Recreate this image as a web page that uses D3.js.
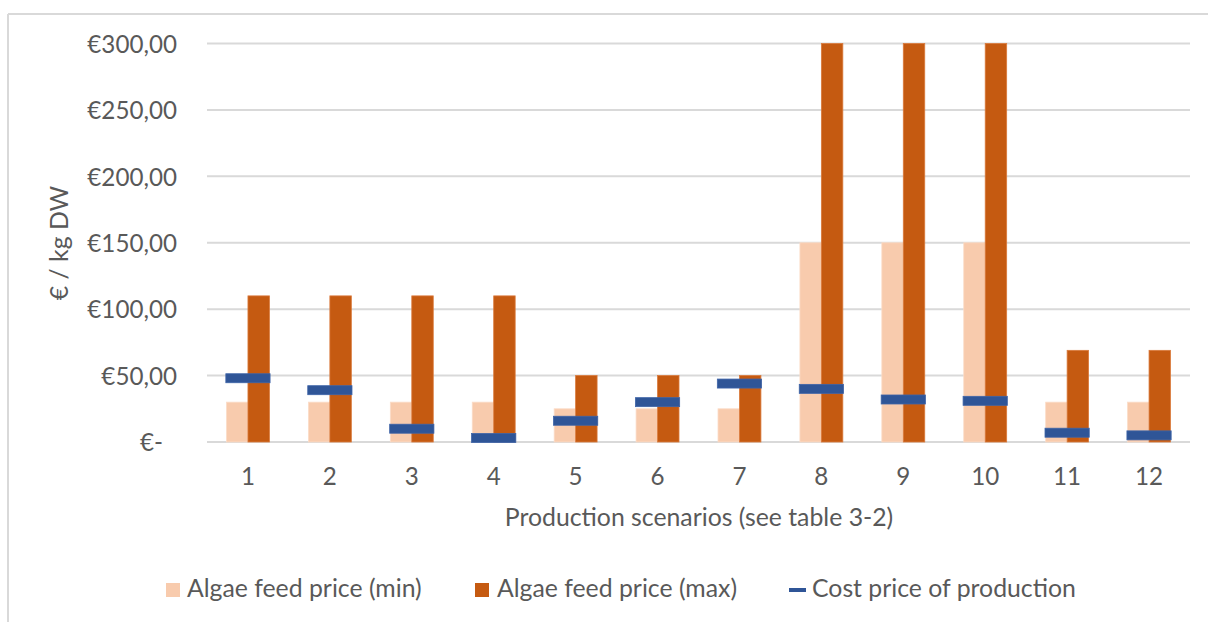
<!DOCTYPE html>
<html>
<head>
<meta charset="utf-8">
<script src="https://cdn.jsdelivr.net/npm/d3@7"></script>
<style>
  html, body { margin: 0; padding: 0; background: #ffffff; }
  svg { display: block; }
  text { font-family: Lato, "Open Sans", sans-serif; fill: #595959; }
</style>
</head>
<body>
<svg id="chart" width="1208" height="622"></svg>
<script>
// Production scenarios and price series (€ / kg DW)
const scenarios = ["1", "2", "3", "4", "5", "6", "7", "8", "9", "10", "11", "12"];
const feedPriceMin = [30, 30, 30, 30, 25, 25, 25, 150, 150, 150, 30, 30];
const feedPriceMax = [110, 110, 110, 110, 50, 50, 50, 300, 300, 300, 69, 69];
const costPrice = [48, 39, 10, 3, 16, 30, 44, 40, 32, 31, 7, 5];
const yTicks = [0, 50, 100, 150, 200, 250, 300];
const seriesNames = ["Algae feed price (min)", "Algae feed price (max)", "Cost price of production"];

const colors = { min: "#F8CBAD", max: "#C55A11", cost: "#2F5597", grid: "#D9D9D9" };
const fontSize = 24.8;
const tickFontSize = 24.2;

const svg = d3.select("#chart");

const plot = { left: 207, right: 1190, top: 43.5, bottom: 442 };

const x = d3.scaleBand().domain(scenarios).range([plot.left, plot.right]).paddingInner(0).paddingOuter(0);
const y = d3.scaleLinear().domain([0, 300]).range([plot.bottom, plot.top]);

const barW = x.bandwidth() * 0.262;
const markW = x.bandwidth() * 0.54;
const markH = 9;

// outer frame (top and left edges)
svg.append("line").attr("x1", 8).attr("x2", 1208).attr("y1", 14).attr("y2", 14)
  .attr("stroke", colors.grid).attr("stroke-width", 2);
svg.append("line").attr("x1", 8).attr("x2", 8).attr("y1", 14).attr("y2", 622)
  .attr("stroke", colors.grid).attr("stroke-width", 2);

// horizontal gridlines
svg.append("g")
  .selectAll("line")
  .data(yTicks)
  .join("line")
  .attr("x1", plot.left).attr("x2", plot.right)
  .attr("y1", d => y(d)).attr("y2", d => y(d))
  .attr("stroke", colors.grid).attr("stroke-width", 2);

// y axis labels
const yAxis = d3.axisLeft(y)
  .tickValues(yTicks)
  .tickSize(0)
  .tickPadding(0)
  .tickFormat(d => d === 0 ? "€-" : "€" + d3.format(".2f")(d).replace(".", ","));

const yG = svg.append("g").attr("transform", `translate(177,0)`).call(yAxis);
yG.select(".domain").remove();
yG.selectAll("text")
  .style("font-size", tickFontSize + "px")
  .attr("font-family", null)
  .attr("dy", "0.36em")
  .attr("x", d => d === 0 ? -14 : 0);

// x axis labels
const xAxis = d3.axisBottom(x).tickSize(0).tickPadding(0);
const xG = svg.append("g").attr("transform", `translate(0,${plot.bottom})`).call(xAxis);
xG.select(".domain").remove();
xG.selectAll("text")
  .style("font-size", tickFontSize + "px")
  .attr("font-family", null)
  .attr("dy", 0)
  .attr("y", 43);

const cx = d => x(d) + x.bandwidth() / 2;

// min price bars
svg.append("g")
  .selectAll("rect")
  .data(scenarios)
  .join("rect")
  .attr("x", d => cx(d) - barW)
  .attr("width", barW)
  .attr("y", (d, i) => y(feedPriceMin[i]))
  .attr("height", (d, i) => y(0) - y(feedPriceMin[i]))
  .attr("fill", colors.min)
  .attr("stroke", "#FBDCC8").attr("stroke-width", 0.8);

// max price bars
svg.append("g")
  .selectAll("rect")
  .data(scenarios)
  .join("rect")
  .attr("x", d => cx(d))
  .attr("width", barW)
  .attr("y", (d, i) => y(feedPriceMax[i]))
  .attr("height", (d, i) => y(0) - y(feedPriceMax[i]))
  .attr("fill", colors.max)
  .attr("stroke", "#DA7A3C").attr("stroke-width", 0.8);

// cost price dash markers
svg.append("g")
  .selectAll("rect")
  .data(scenarios)
  .join("rect")
  .attr("x", d => cx(d) - markW / 2)
  .attr("width", markW)
  .attr("y", (d, i) => y(costPrice[i]) - markH / 2)
  .attr("height", markH)
  .attr("fill", colors.cost)
  .attr("stroke", "#3E64A8").attr("stroke-width", 0.8);

// axis titles
svg.append("text")
  .attr("transform", "translate(68,243) rotate(-90)")
  .attr("text-anchor", "middle")
  .style("font-size", fontSize + "px")
  .text("€ / kg DW");

svg.append("text")
  .attr("x", 699).attr("y", 526)
  .attr("text-anchor", "middle")
  .style("font-size", fontSize + "px")
  .text("Production scenarios (see table 3-2)");

// legend
const legend = svg.append("g");
legend.append("rect").attr("x", 166).attr("y", 583).attr("width", 14).attr("height", 14).attr("fill", colors.min);
legend.append("text").attr("x", 187).attr("y", 597).style("font-size", fontSize + "px").text(seriesNames[0]);
legend.append("rect").attr("x", 475).attr("y", 583).attr("width", 14).attr("height", 14).attr("fill", colors.max);
legend.append("text").attr("x", 497).attr("y", 597).style("font-size", fontSize + "px").text(seriesNames[1]);
legend.append("rect").attr("x", 789).attr("y", 588).attr("width", 17).attr("height", 4).attr("fill", colors.cost);
legend.append("text").attr("x", 812).attr("y", 597).style("font-size", fontSize + "px").text(seriesNames[2]);
</script>
</body>
</html>
